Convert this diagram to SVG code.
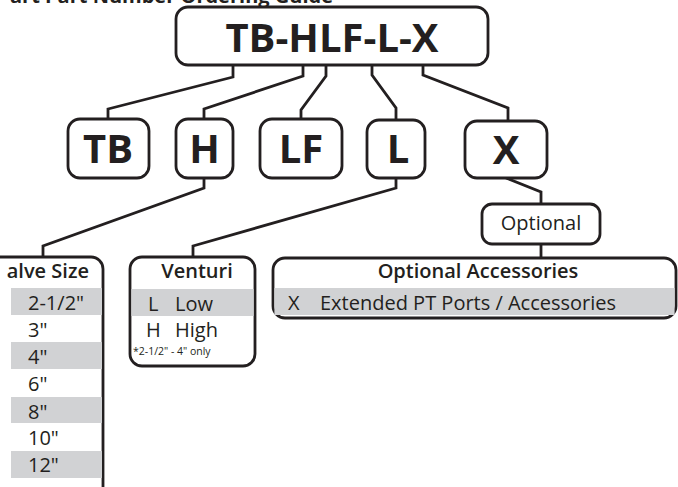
<svg xmlns="http://www.w3.org/2000/svg" width="678" height="487" viewBox="0 0 678 487">
<style>
.box{fill:#fff;stroke:#231f20;stroke-width:2.8}
.conn{fill:none;stroke:#231f20;stroke-width:2.8}
.big{font-family:"Open Sans","Liberation Sans",sans-serif;font-weight:700;font-size:40px;fill:#231f20;text-anchor:middle}
.hdr{font-family:"Open Sans","Liberation Sans",sans-serif;font-weight:600;font-size:20px;fill:#231f20}
.txt{font-family:"Open Sans","Liberation Sans",sans-serif;font-size:20px;fill:#231f20}
.band{fill:#d1d2d4}
</style>
<rect width="678" height="487" fill="#fff"/>
<text x="10" y="3" font-family="'Open Sans','Liberation Sans',sans-serif" font-weight="700" font-size="19" fill="#231f20" textLength="323" lengthAdjust="spacingAndGlyphs">art Part Number Ordering Guide</text>
<g id="connectors">
<polyline class="conn" points="233,65 233,77 108,109 108,120"/>
<polyline class="conn" points="303,65 303,76 204,109 204,120"/>
<polyline class="conn" points="326,65 326,76 301,110 301,120"/>
<polyline class="conn" points="372,65 372,75 396,108 396,120"/>
<polyline class="conn" points="423,65 423,75 508,108 508,121"/>
<polyline class="conn" points="204,178 204,188 43,246 43,257"/>
<polyline class="conn" points="396,178 396,188 193,246 193,257"/>
<polyline class="conn" points="506,178 541,192 541,204"/>
<line class="conn" x1="541" y1="244" x2="541" y2="258"/>
</g>
<g id="main">
<rect class="box" x="176" y="7" width="312" height="58" rx="12"/>
<text class="big" x="332" y="52" font-size="41">TB-HLF-L-X</text>
</g>
<g id="tb">
<rect class="box" x="68" y="119" width="81" height="59" rx="12"/>
<text class="big" x="108" y="163">TB</text>
</g>
<g id="h">
<rect class="box" x="176" y="119" width="57" height="59" rx="12"/>
<text class="big" x="204.5" y="163">H</text>
</g>
<g id="lf">
<rect class="box" x="260" y="119" width="82" height="59" rx="12"/>
<text class="big" x="301" y="163">LF</text>
</g>
<g id="l">
<rect class="box" x="367" y="120" width="58" height="58" rx="12"/>
<text class="big" x="398" y="163">L</text>
</g>
<g id="x">
<rect class="box" x="465" y="121" width="82" height="57" rx="12"/>
<text class="big" x="506" y="164">X</text>
</g>
<g id="optional">
<rect class="box" x="482" y="204" width="118" height="40" rx="10"/>
<text class="txt" x="541" y="230" text-anchor="middle" font-size="19.5">Optional</text>
</g>
<g id="valve-size">
<path class="box" d="M-10,257 H91 A12,12 0 0 1 103,269 V495 H-10 Z"/>
<rect class="band" x="11" y="288" width="91" height="27"/>
<rect class="band" x="11" y="342" width="91" height="27"/>
<rect class="band" x="11" y="397" width="91" height="26"/>
<rect class="band" x="11" y="451" width="91" height="27"/>
<text class="hdr" x="89" y="278" text-anchor="end">alve Size</text>
<text class="txt" x="28" y="310" font-size="21">2-1/2"</text>
<text class="txt" x="28" y="337" font-size="21">3"</text>
<text class="txt" x="28" y="364" font-size="21">4"</text>
<text class="txt" x="28" y="391" font-size="21">6"</text>
<text class="txt" x="28" y="419" font-size="21">8"</text>
<text class="txt" x="28" y="445" font-size="21">10"</text>
<text class="txt" x="28" y="472" font-size="21">12"</text>
</g>
<g id="venturi">
<rect class="box" x="130" y="257" width="125" height="109" rx="12"/>
<rect class="band" x="131.4" y="289" width="122.2" height="27"/>
<text class="hdr" x="197" y="278" text-anchor="middle">Venturi</text>
<text class="txt" x="148" y="311" font-size="21">L</text>
<text class="txt" x="175" y="311" font-size="21">Low</text>
<text class="txt" x="146" y="337" font-size="21">H</text>
<text class="txt" x="175" y="337" font-size="21">High</text>
<text x="133" y="355" font-family="'Open Sans','Liberation Sans',sans-serif" font-size="10.5" fill="#231f20">*2-1/2" - 4" only</text>
</g>
<g id="accessories">
<rect class="box" x="273" y="258" width="403" height="60" rx="12"/>
<rect class="band" x="274.4" y="288" width="400.2" height="27"/>
<text class="hdr" x="478" y="278" text-anchor="middle">Optional Accessories</text>
<text class="txt" x="288" y="310">X</text>
<text class="txt" x="320" y="310">Extended PT Ports / Accessories</text>
</g>
</svg>
